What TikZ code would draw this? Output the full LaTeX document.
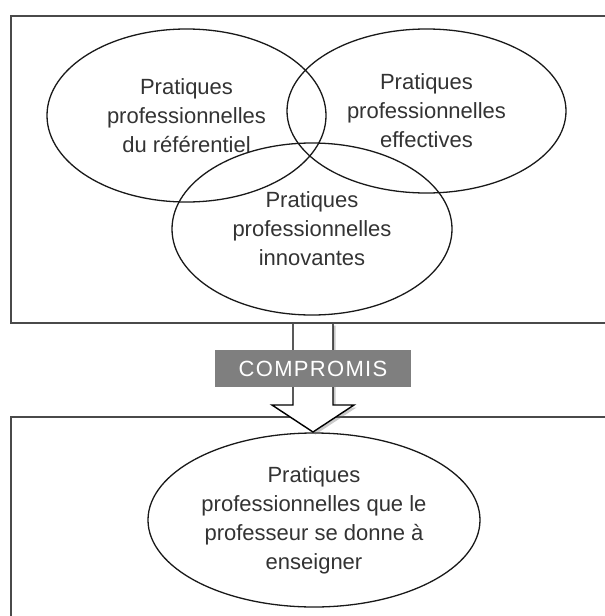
\documentclass[tikz,border=0pt]{standalone}
\usepackage{fontspec}
\setmainfont{Liberation Sans}
\usetikzlibrary{shapes.geometric,shadows}
\definecolor{txt}{HTML}{333333}
\definecolor{boxline}{HTML}{4A4A4A}
\definecolor{band}{HTML}{7F7F7F}
\tikzset{
  frame/.style={draw=boxline,line width=2pt},
  venn/.style={ellipse,draw=black!90,line width=1.3pt,inner sep=0pt,
    minimum width=279pt,align=center,text=txt,
    font=\fontsize{22}{29}\selectfont},
  blockarrow/.style={draw=black,line width=1.4pt,fill=white,
    drop shadow={shadow xshift=2.5pt,shadow yshift=-2.5pt,opacity=0.35,fill=black!60}},
  bandbox/.style={fill=band,text=white,inner sep=0pt,
    minimum width=196pt,minimum height=37pt,
    font=\fontsize{22}{26}\selectfont\addfontfeature{LetterSpace=6}}
}
\begin{document}
\begin{tikzpicture}[x=1pt,y=-1pt]
\useasboundingbox (0,0) rectangle (605,616);
\clip (0,0) rectangle (605,616);
% frames
\draw[frame] (11,16) rectangle (640,323);
\draw[frame] (11,417) rectangle (640,660);
% ellipses
\node[venn,minimum height=173pt] (ref) at (186.5,115.5) {Pratiques\\professionnelles\\du référentiel};
\node[venn,minimum height=164pt] (eff) at (426.5,111) {Pratiques\\professionnelles\\effectives};
\node[venn,minimum width=280pt,minimum height=172pt] (inn) at (312,229) {Pratiques\\professionnelles\\innovantes};
\node[venn,minimum width=332pt,minimum height=174pt] (ens) at (314,520) {Pratiques\\professionnelles que le\\professeur se donne à\\enseigner};
% block arrow
\coordinate (a1) at (293,323);
\coordinate (a2) at (333,323);
\draw[blockarrow] (a1) -- (293,405) -- (272,405) -- (313,432) -- (354,405) -- (333,405) -- (a2);
\draw[frame] (11,323) -- (640,323);
% band
\node[bandbox] (comp) at (313,368.5) {COMPROMIS};
\end{tikzpicture}
\end{document}
